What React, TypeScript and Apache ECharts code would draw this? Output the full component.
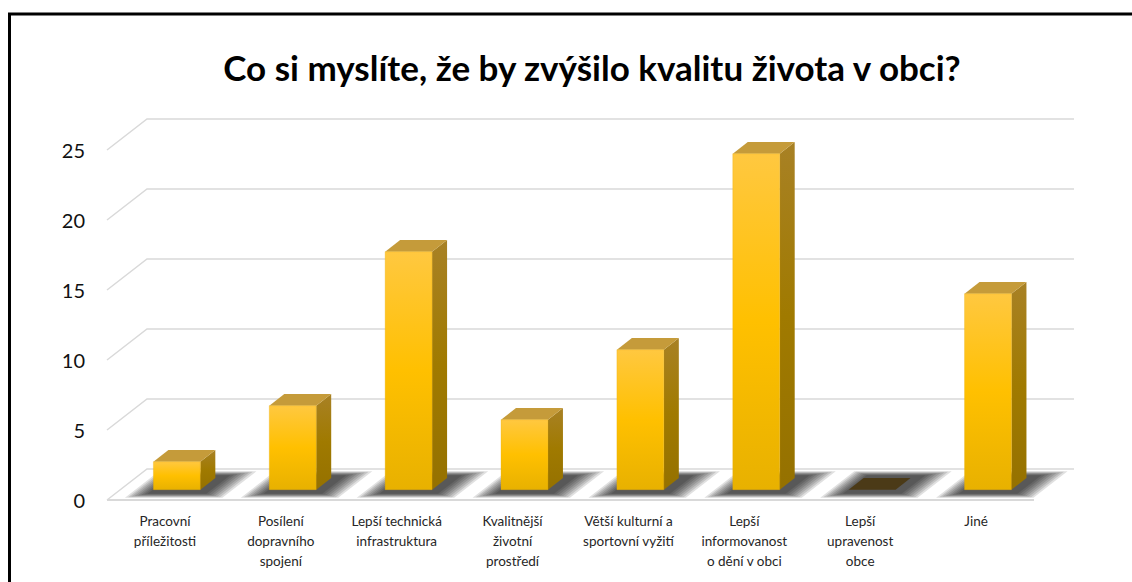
import React, { useEffect, useRef } from "react";
import * as echarts from "echarts";

const titleText = "Co si myslíte, že by zvýšilo kvalitu života v obci?";
const categories = [
  "Pracovní\npříležitosti",
  "Posílení\ndopravního\nspojení",
  "Lepší technická\ninfrastruktura",
  "Kvalitnější\nživotní\nprostředí",
  "Větší kulturní a\nsportovní vyžití",
  "Lepší\ninformovanost\no dění v obci",
  "Lepší\nupravenost\nobce",
  "Jiné",
];
const values = [2, 6, 17, 5, 10, 24, 0, 14];
const yTicks = [0, 5, 10, 15, 20, 25];

const DX = 40;
const DY = -31;
const T0 = 0.333;
const T1 = 0.708;
const BAR_RATIO = 0.405;

function buildOption() {
  const gridItem = (params: any, api: any) => {
    const v = api.value(1);
    const catW = api.size([1, 0])[0];
    const pL = api.coord([0, v]);
    const pR = api.coord([categories.length - 1, v]);
    const xl = pL[0] - catW / 2;
    const xr = pR[0] + catW / 2;
    const y = pL[1];
    const children: any[] = [
      {
        type: "polyline",
        shape: { points: [[xl, y], [xl + DX, y + DY], [xr + DX, y + DY]] },
        style: { stroke: "#d9d9d9", lineWidth: 1.5, fill: null },
      },
    ];
    if (v === 0) {
      children.push({
        type: "line",
        shape: { x1: xl, y1: y, x2: xr, y2: y },
        style: { stroke: "#d9d9d9", lineWidth: 2 },
      });
    }
    return { type: "group", children };
  };

  const shadowItem = (params: any, api: any) => {
    const i = api.value(0);
    const catW = api.size([1, 0])[0];
    const p = api.coord([i, 0]);
    const cx = p[0];
    const y0 = p[1];
    const bw = catW * BAR_RATIO;
    const children: any[] = [];
    const layers = 8;
    for (let k = layers - 1; k >= 0; k--) {
      const l = cx - bw / 2 - 2 - 2.5 * k;
      const r = cx + bw / 2 + 10 + 3 * k;
      const ta = Math.max(0.05, 0.2 - 0.018 * k);
      const tb = Math.min(0.95, 0.8 + 0.018 * k);
      children.push({
        type: "polygon",
        shape: {
          points: [
            [l + DX * ta, y0 + DY * ta],
            [r + DX * ta, y0 + DY * ta],
            [r + DX * tb, y0 + DY * tb],
            [l + DX * tb, y0 + DY * tb],
          ],
        },
        style: { fill: "rgba(0,0,0,0.12)" },
      });
    }
    return { type: "group", children };
  };

  const barItem = (params: any, api: any) => {
    const i = api.value(0);
    const v = api.value(1);
    const catW = api.size([1, 0])[0];
    const p0 = api.coord([i, 0]);
    const p1 = api.coord([i, v]);
    const cx = p0[0] - catW * 0.012;
    const y0 = p0[1];
    const y1 = p1[1];
    const bw = catW * BAR_RATIO;
    const ox0 = DX * T0, oy0 = DY * T0;
    const ox1 = DX * T1, oy1 = DY * T1;
    const L0 = cx - bw / 2 + ox0, R0 = cx + bw / 2 + ox0;
    const L1 = cx - bw / 2 + ox1, R1 = cx + bw / 2 + ox1;
    const top = [
      [L0, y1 + oy0],
      [L1, y1 + oy1],
      [R1, y1 + oy1],
      [R0, y1 + oy0],
    ];
    if (v === 0) {
      return {
        type: "polygon",
        shape: { points: top },
        style: { fill: "#4b3a17" },
      };
    }
    return {
      type: "group",
      children: [
        {
          type: "polygon",
          shape: {
            points: [
              [R0, y1 + oy0],
              [R1, y1 + oy1],
              [R1, y0 + oy1],
              [R0, y0 + oy0],
            ],
          },
          style: {
            fill: new echarts.graphic.LinearGradient(0, 0, 0, 1, [
              { offset: 0, color: "#a88125" },
              { offset: 0.5, color: "#a07a00" },
              { offset: 1, color: "#957100" },
            ]),
          },
        },
        {
          type: "polygon",
          shape: { points: top },
          style: { fill: "#c59b3a" },
        },
        {
          type: "rect",
          shape: { x: L0, y: y1 + oy0, width: bw, height: y0 - y1 },
          style: {
            fill: new echarts.graphic.LinearGradient(0, 0, 0, 1, [
              { offset: 0, color: "#ffc840" },
              { offset: 0.5, color: "#ffc000" },
              { offset: 1, color: "#e8b100" },
            ]),
            stroke: "rgba(230,170,0,0.6)",
            lineWidth: 0.5,
          },
        },
      ],
    };
  };

  return {
    animation: false,
    backgroundColor: "#ffffff",
    title: {
      text: titleText,
      left: 587,
      top: 44,
      textAlign: "center",
      textStyle: {
        fontFamily: "Lato",
        fontWeight: "bold",
        fontSize: 35,
        color: "#000000",
      },
    },
    graphic: [
      {
        type: "rect",
        shape: { x: 9.5, y: 14, width: 1300, height: 800 },
        style: { fill: "none", stroke: "#000000", lineWidth: 3 },
        z: 100,
      },
    ],
    grid: { left: 107, right: 98, top: 150, bottom: 82 },
    xAxis: {
      type: "category",
      data: categories,
      axisLine: { show: false },
      axisTick: { show: false },
      splitLine: { show: false },
      axisLabel: {
        interval: 0,
        margin: 11,
        fontFamily: "Lato",
        fontSize: 13.5,
        lineHeight: 20,
        color: "#262626",
      },
    },
    yAxis: {
      type: "value",
      min: 0,
      max: 25,
      interval: 5,
      axisLine: { show: false },
      axisTick: { show: false },
      splitLine: { show: false },
      axisLabel: {
        margin: 22,
        fontFamily: "Lato",
        fontSize: 20,
        color: "#111111",
      },
    },
    series: [
      {
        type: "custom",
        z: 1,
        silent: true,
        renderItem: gridItem,
        data: yTicks.map((v) => [0, v]),
        encode: { x: 0, y: 1 },
      },
      {
        type: "custom",
        z: 2,
        silent: true,
        renderItem: shadowItem,
        data: values.map((v, i) => [i, v]),
        encode: { x: 0, y: 1 },
      },
      {
        type: "custom",
        z: 3,
        renderItem: barItem,
        data: values.map((v, i) => [i, v]),
        encode: { x: 0, y: 1 },
      },
    ],
  };
}

export default function App() {
  const ref = useRef<HTMLDivElement>(null);
  useEffect(() => {
    if (!ref.current) return;
    const chart = echarts.init(ref.current, null, { renderer: "svg" });
    chart.setOption(buildOption() as any);
    return () => chart.dispose();
  }, []);
  return (
    <div
      ref={ref}
      style={{
        position: "absolute",
        left: 0,
        top: 0,
        width: 1132,
        height: 582,
        background: "#ffffff",
      }}
    />
  );
}
